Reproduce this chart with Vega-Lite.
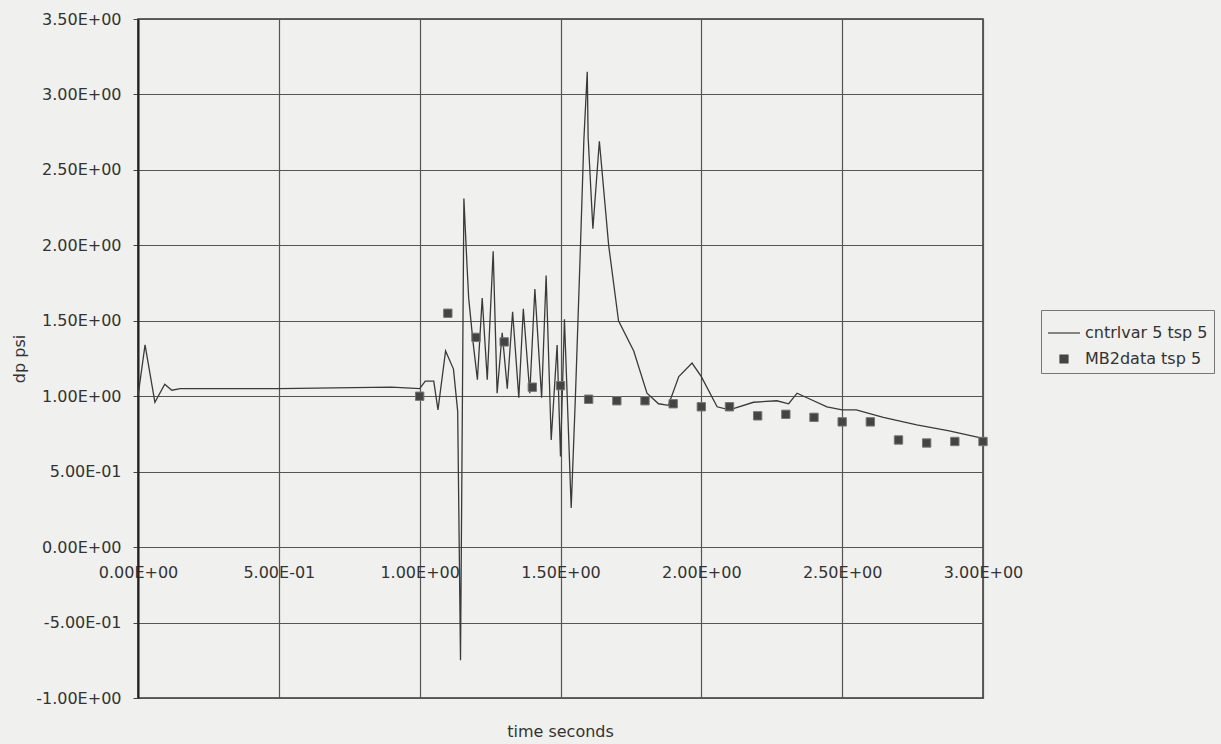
{
  "$schema": "https://vega.github.io/schema/vega-lite/v6.json",
  "width": 845,
  "height": 679,
  "autosize": {"type": "none"},
  "padding": {"left": 138, "top": 19, "right": 238, "bottom": 46},
  "background": "#f0f0ee",
  "title": {
    "text": "time seconds",
    "orient": "bottom",
    "anchor": "middle",
    "frame": "group",
    "font": "DejaVu Sans",
    "fontSize": 16,
    "fontWeight": "normal",
    "color": "#333333",
    "offset": 18
  },
  "datasets": {
    "sim": [
      {"t": 0, "v": 1.0, "series": "cntrlvar 5 tsp 5"},
      {"t": 0.025, "v": 1.34, "series": "cntrlvar 5 tsp 5"},
      {"t": 0.06, "v": 0.96, "series": "cntrlvar 5 tsp 5"},
      {"t": 0.095, "v": 1.08, "series": "cntrlvar 5 tsp 5"},
      {"t": 0.12, "v": 1.04, "series": "cntrlvar 5 tsp 5"},
      {"t": 0.15, "v": 1.05, "series": "cntrlvar 5 tsp 5"},
      {"t": 0.5, "v": 1.05, "series": "cntrlvar 5 tsp 5"},
      {"t": 0.9, "v": 1.06, "series": "cntrlvar 5 tsp 5"},
      {"t": 1.0, "v": 1.05, "series": "cntrlvar 5 tsp 5"},
      {"t": 1.02, "v": 1.1, "series": "cntrlvar 5 tsp 5"},
      {"t": 1.05, "v": 1.1, "series": "cntrlvar 5 tsp 5"},
      {"t": 1.065, "v": 0.91, "series": "cntrlvar 5 tsp 5"},
      {"t": 1.092, "v": 1.3, "series": "cntrlvar 5 tsp 5"},
      {"t": 1.12, "v": 1.18, "series": "cntrlvar 5 tsp 5"},
      {"t": 1.135, "v": 0.9, "series": "cntrlvar 5 tsp 5"},
      {"t": 1.145, "v": -0.75, "series": "cntrlvar 5 tsp 5"},
      {"t": 1.157, "v": 2.31, "series": "cntrlvar 5 tsp 5"},
      {"t": 1.168, "v": 1.87, "series": "cntrlvar 5 tsp 5"},
      {"t": 1.174, "v": 1.65, "series": "cntrlvar 5 tsp 5"},
      {"t": 1.19, "v": 1.35, "series": "cntrlvar 5 tsp 5"},
      {"t": 1.205, "v": 1.11, "series": "cntrlvar 5 tsp 5"},
      {"t": 1.222, "v": 1.65, "series": "cntrlvar 5 tsp 5"},
      {"t": 1.24, "v": 1.11, "series": "cntrlvar 5 tsp 5"},
      {"t": 1.261, "v": 1.96, "series": "cntrlvar 5 tsp 5"},
      {"t": 1.275, "v": 1.02, "series": "cntrlvar 5 tsp 5"},
      {"t": 1.293, "v": 1.42, "series": "cntrlvar 5 tsp 5"},
      {"t": 1.311, "v": 1.05, "series": "cntrlvar 5 tsp 5"},
      {"t": 1.33, "v": 1.56, "series": "cntrlvar 5 tsp 5"},
      {"t": 1.352, "v": 0.99, "series": "cntrlvar 5 tsp 5"},
      {"t": 1.368, "v": 1.58, "series": "cntrlvar 5 tsp 5"},
      {"t": 1.391, "v": 1.02, "series": "cntrlvar 5 tsp 5"},
      {"t": 1.409, "v": 1.71, "series": "cntrlvar 5 tsp 5"},
      {"t": 1.433, "v": 0.99, "series": "cntrlvar 5 tsp 5"},
      {"t": 1.449, "v": 1.8, "series": "cntrlvar 5 tsp 5"},
      {"t": 1.467, "v": 0.71, "series": "cntrlvar 5 tsp 5"},
      {"t": 1.488, "v": 1.34, "series": "cntrlvar 5 tsp 5"},
      {"t": 1.5, "v": 0.6, "series": "cntrlvar 5 tsp 5"},
      {"t": 1.514, "v": 1.51, "series": "cntrlvar 5 tsp 5"},
      {"t": 1.538, "v": 0.26, "series": "cntrlvar 5 tsp 5"},
      {"t": 1.553, "v": 1.0, "series": "cntrlvar 5 tsp 5"},
      {"t": 1.571, "v": 2.0, "series": "cntrlvar 5 tsp 5"},
      {"t": 1.583, "v": 2.7, "series": "cntrlvar 5 tsp 5"},
      {"t": 1.595, "v": 3.15, "series": "cntrlvar 5 tsp 5"},
      {"t": 1.598, "v": 2.72, "series": "cntrlvar 5 tsp 5"},
      {"t": 1.615, "v": 2.11, "series": "cntrlvar 5 tsp 5"},
      {"t": 1.638, "v": 2.69, "series": "cntrlvar 5 tsp 5"},
      {"t": 1.671, "v": 2.0, "series": "cntrlvar 5 tsp 5"},
      {"t": 1.706, "v": 1.5, "series": "cntrlvar 5 tsp 5"},
      {"t": 1.76, "v": 1.3, "series": "cntrlvar 5 tsp 5"},
      {"t": 1.807, "v": 1.02, "series": "cntrlvar 5 tsp 5"},
      {"t": 1.848, "v": 0.95, "series": "cntrlvar 5 tsp 5"},
      {"t": 1.883, "v": 0.94, "series": "cntrlvar 5 tsp 5"},
      {"t": 1.92, "v": 1.13, "series": "cntrlvar 5 tsp 5"},
      {"t": 1.967, "v": 1.22, "series": "cntrlvar 5 tsp 5"},
      {"t": 2.0, "v": 1.13, "series": "cntrlvar 5 tsp 5"},
      {"t": 2.056, "v": 0.93, "series": "cntrlvar 5 tsp 5"},
      {"t": 2.1, "v": 0.91, "series": "cntrlvar 5 tsp 5"},
      {"t": 2.185, "v": 0.96, "series": "cntrlvar 5 tsp 5"},
      {"t": 2.268, "v": 0.97, "series": "cntrlvar 5 tsp 5"},
      {"t": 2.31, "v": 0.95, "series": "cntrlvar 5 tsp 5"},
      {"t": 2.34, "v": 1.02, "series": "cntrlvar 5 tsp 5"},
      {"t": 2.375, "v": 0.99, "series": "cntrlvar 5 tsp 5"},
      {"t": 2.446, "v": 0.93, "series": "cntrlvar 5 tsp 5"},
      {"t": 2.5, "v": 0.91, "series": "cntrlvar 5 tsp 5"},
      {"t": 2.55, "v": 0.91, "series": "cntrlvar 5 tsp 5"},
      {"t": 2.646, "v": 0.86, "series": "cntrlvar 5 tsp 5"},
      {"t": 2.765, "v": 0.81, "series": "cntrlvar 5 tsp 5"},
      {"t": 2.88, "v": 0.77, "series": "cntrlvar 5 tsp 5"},
      {"t": 3.0, "v": 0.72, "series": "cntrlvar 5 tsp 5"}
    ],
    "meas": [
      {"t": 1.0, "v": 1.0, "series": "MB2data tsp 5"},
      {"t": 1.1, "v": 1.55, "series": "MB2data tsp 5"},
      {"t": 1.2, "v": 1.39, "series": "MB2data tsp 5"},
      {"t": 1.3, "v": 1.36, "series": "MB2data tsp 5"},
      {"t": 1.4, "v": 1.06, "series": "MB2data tsp 5"},
      {"t": 1.5, "v": 1.07, "series": "MB2data tsp 5"},
      {"t": 1.6, "v": 0.98, "series": "MB2data tsp 5"},
      {"t": 1.7, "v": 0.97, "series": "MB2data tsp 5"},
      {"t": 1.8, "v": 0.97, "series": "MB2data tsp 5"},
      {"t": 1.9, "v": 0.95, "series": "MB2data tsp 5"},
      {"t": 2.0, "v": 0.93, "series": "MB2data tsp 5"},
      {"t": 2.1, "v": 0.93, "series": "MB2data tsp 5"},
      {"t": 2.2, "v": 0.87, "series": "MB2data tsp 5"},
      {"t": 2.3, "v": 0.88, "series": "MB2data tsp 5"},
      {"t": 2.4, "v": 0.86, "series": "MB2data tsp 5"},
      {"t": 2.5, "v": 0.83, "series": "MB2data tsp 5"},
      {"t": 2.6, "v": 0.83, "series": "MB2data tsp 5"},
      {"t": 2.7, "v": 0.71, "series": "MB2data tsp 5"},
      {"t": 2.8, "v": 0.69, "series": "MB2data tsp 5"},
      {"t": 2.9, "v": 0.7, "series": "MB2data tsp 5"},
      {"t": 3.0, "v": 0.7, "series": "MB2data tsp 5"}
    ]
  },
  "encoding": {
    "x": {
      "field": "t",
      "type": "quantitative",
      "scale": {"domain": [0, 3], "nice": false, "zero": false},
      "axis": {
        "values": [0, 0.5, 1, 1.5, 2, 2.5, 3],
        "title": null,
        "offset": -151,
        "domain": false,
        "ticks": false,
        "tickSize": 0,
        "labelPadding": 17,
        "labelFlush": false,
        "labelOverlap": false,
        "labelExpr": "replace(replace(replace(format(datum.value, '.2e'), 'e+', 'E+0'), 'e-', 'E-0'), '\u2212', '-')",
        "grid": true
      }
    },
    "y": {
      "field": "v",
      "type": "quantitative",
      "scale": {"domain": [-1, 3.5], "nice": false, "zero": false},
      "axis": {
        "values": [-1, -0.5, 0, 0.5, 1, 1.5, 2, 2.5, 3, 3.5],
        "title": "dp psi",
        "titlePadding": 8,
        "domain": true,
        "domainColor": "#222222",
        "domainWidth": 2,
        "ticks": true,
        "tickSize": 5,
        "tickColor": "#444444",
        "labelPadding": 12,
        "labelFlush": false,
        "labelOverlap": false,
        "labelExpr": "replace(replace(replace(format(datum.value, '.2e'), 'e+', 'E+0'), 'e-', 'E-0'), '\u2212', '-')",
        "grid": true
      }
    },
    "color": {
      "field": "series",
      "type": "nominal",
      "scale": {"domain": ["cntrlvar 5 tsp 5", "MB2data tsp 5"], "range": ["#3a3a3a", "#444444"]},
      "legend": {
        "orient": "none",
        "legendX": 903,
        "legendY": 291,
        "title": null,
        "labelFont": "DejaVu Sans",
        "labelFontSize": 16,
        "labelColor": "#333333",
        "strokeColor": "#777777",
        "fillColor": "#f0f0ee",
        "padding": 6,
        "rowPadding": 1,
        "symbolSize": 1024,
        "labelOffset": 4,
        "encode": {
          "symbols": {
            "update": {
              "shape": {"signal": "datum.value === 'MB2data tsp 5' ? 'square' : 'stroke'"},
              "size": {"signal": "datum.value === 'MB2data tsp 5' ? 64 : 1024"},
              "fill": {"signal": "datum.value === 'MB2data tsp 5' ? '#444444' : 'transparent'"},
              "stroke": {"signal": "datum.value === 'MB2data tsp 5' ? '#777777' : '#3a3a3a'"},
              "strokeWidth": {"value": 1.2},
              "opacity": {"value": 1}
            }
          }
        }
      }
    }
  },
  "layer": [
    {
      "data": {"name": "sim"},
      "mark": {"type": "line", "strokeWidth": 1.3, "interpolate": "linear"}
    },
    {
      "data": {"name": "meas"},
      "mark": {"type": "point", "shape": "square", "filled": true, "size": 70, "stroke": "#777777", "strokeWidth": 1, "opacity": 1}
    }
  ],
  "config": {
    "view": {"stroke": "#333333", "strokeWidth": 1.5},
    "axis": {
      "gridColor": "#555555",
      "gridWidth": 1.2,
      "gridOpacity": 1,
      "labelFont": "DejaVu Sans",
      "labelFontSize": 16,
      "labelColor": "#333333",
      "titleFont": "DejaVu Sans",
      "titleFontSize": 16,
      "titleFontWeight": "normal",
      "titleColor": "#333333"
    }
  }
}
